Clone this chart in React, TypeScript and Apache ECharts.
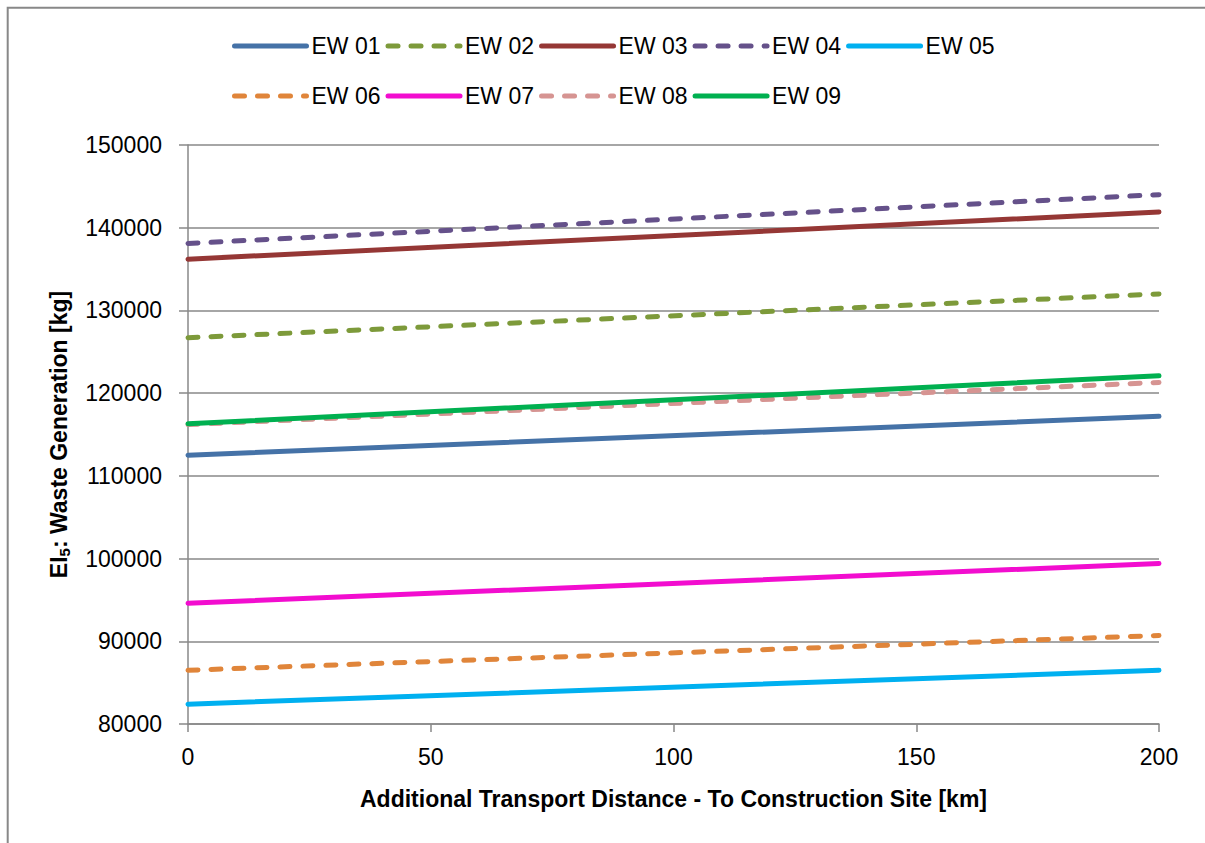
import React, { useEffect, useRef } from "react";
import * as echarts from "echarts";

const distances = [0, 200];
const seriesNames = ["EW 01", "EW 02", "EW 03", "EW 04", "EW 05", "EW 06", "EW 07", "EW 08", "EW 09"];
const ew01 = [112500, 117200];
const ew02 = [126700, 132000];
const ew03 = [136200, 141900];
const ew04 = [138100, 144000];
const ew05 = [82400, 86500];
const ew06 = [86500, 90700];
const ew07 = [94600, 99400];
const ew08 = [116200, 121300];
const ew09 = [116300, 122100];
const seriesValues = [ew01, ew02, ew03, ew04, ew05, ew06, ew07, ew08, ew09];
const seriesColors = ["#4572A7", "#7D9A3A", "#953735", "#65518A", "#00B0F0", "#E0853A", "#F20DCF", "#D69492", "#00B050"];
const seriesDashed = [false, true, false, true, false, true, false, true, false];
const legendRow1 = ["EW 01", "EW 02", "EW 03", "EW 04", "EW 05"];
const legendRow2 = ["EW 06", "EW 07", "EW 08", "EW 09"];

const FONT = "Liberation Sans";

export default function App() {
  const ref = useRef<HTMLDivElement>(null);
  useEffect(() => {
    if (!ref.current) return;
    const chart = echarts.init(ref.current, undefined, { renderer: "svg" });
    const series = seriesNames.map((name, i) => ({
      name,
      type: "line",
      data: distances.map((d, j) => [d, seriesValues[i][j]]),
      symbol: "none",
      color: seriesColors[i],
      lineStyle: {
        width: 5,
        color: seriesColors[i],
        type: seriesDashed[i] ? [10, 13] : "solid",
        cap: "round",
      },
    }));
    const legendBase = {
      left: 232,
      orient: "horizontal",
      padding: 0,
      itemWidth: 72,
      itemHeight: 14,
      itemGap: 5,
      itemStyle: { opacity: 0, borderWidth: 0 },
      lineStyle: { width: 5, cap: "round" },
      textStyle: { fontFamily: FONT, fontSize: 23, color: "#000", lineHeight: 26 },
    };
    chart.setOption({
      animation: false,
      backgroundColor: "#fff",
      graphic: [
        {
          type: "polyline",
          shape: { points: [[7.7, 900], [7.7, 7.7], [1300, 7.7]] },
          style: { fill: "none", stroke: "#888888", lineWidth: 2 },
          silent: true,
        },
      ],
      legend: [
        { ...legendBase, top: 33, data: legendRow1 },
        { ...legendBase, top: 83, data: legendRow2 },
      ],
      grid: { left: 188, right: 46, top: 145, bottom: 119, containLabel: false },
      xAxis: {
        type: "value",
        min: 0,
        max: 200,
        interval: 50,
        name: "Additional Transport Distance - To Construction Site [km]",
        nameLocation: "middle",
        nameGap: 63,
        nameTextStyle: { fontFamily: FONT, fontSize: 23, fontWeight: "bold", color: "#000" },
        axisLine: { show: true, lineStyle: { color: "#888888", width: 1.5 } },
        axisTick: { show: true, length: 8, lineStyle: { color: "#888888", width: 1.5 } },
        axisLabel: { fontFamily: FONT, fontSize: 23, color: "#000", margin: 21 },
        splitLine: { show: false },
      },
      yAxis: {
        type: "value",
        min: 80000,
        max: 150000,
        interval: 10000,
        name: "{b|EI}{s|5}{b|: Waste Generation [kg]}",
        nameLocation: "middle",
        nameRotate: 90,
        nameGap: 116,
        nameTextStyle: {
          fontFamily: FONT,
          fontSize: 23,
          fontWeight: "bold",
          color: "#000",
          rich: {
            b: { fontFamily: FONT, fontSize: 23, fontWeight: "bold", color: "#000", lineHeight: 26 },
            s: { fontFamily: FONT, fontSize: 15, fontWeight: "bold", color: "#000", lineHeight: 8, verticalAlign: "bottom" },
          },
        },
        axisLine: { show: true, lineStyle: { color: "#888888", width: 1.5 } },
        axisTick: { show: true, length: 9, lineStyle: { color: "#888888", width: 1.5 } },
        axisLabel: {
          fontFamily: FONT,
          fontSize: 23,
          color: "#000",
          margin: 26,
          formatter: (v: number) => String(v),
        },
        splitLine: { show: true, lineStyle: { color: "#888888", width: 1.5 } },
      },
      series,
    });
    return () => chart.dispose();
  }, []);
  return (
    <div
      ref={ref}
      style={{ position: "fixed", left: 0, top: 0, width: 1205, height: 843 }}
    />
  );
}
